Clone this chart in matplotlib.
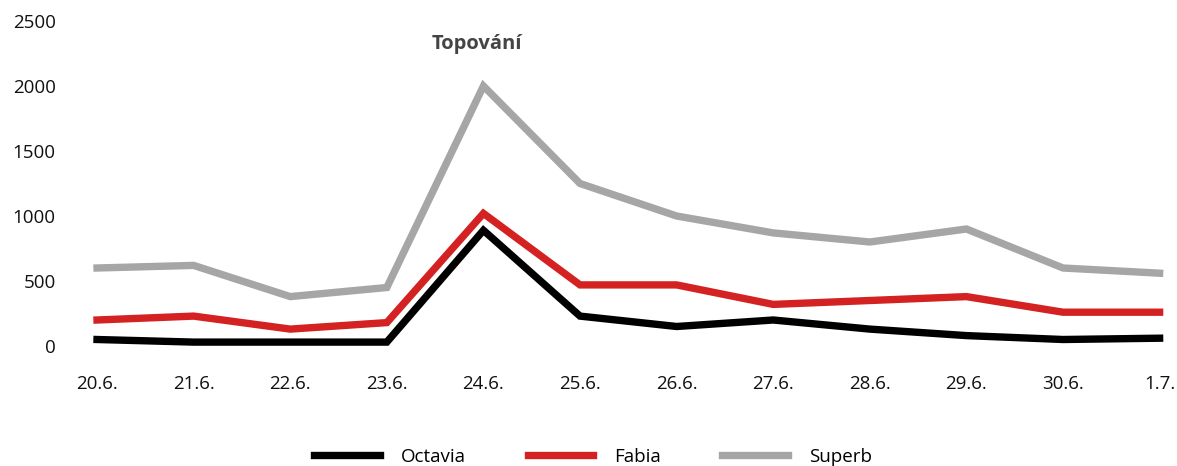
import matplotlib.pyplot as plt

plt.rcParams['font.family'] = ['Open Sans', 'DejaVu Sans']

# data
dates = ['20.6.', '21.6.', '22.6.', '23.6.', '24.6.', '25.6.',
         '26.6.', '27.6.', '28.6.', '29.6.', '30.6.', '1.7.']
octavia = [50, 30, 30, 30, 890, 230, 150, 200, 130, 80, 50, 60]
fabia = [200, 230, 130, 180, 1020, 470, 470, 320, 350, 380, 260, 260]
superb = [600, 620, 380, 450, 2000, 1250, 1000, 870, 800, 900, 600, 560]

W, H = 1177, 466
fig = plt.figure(figsize=(W / 100, H / 100), dpi=100)
# axes placed so that 0 -> y=346px, 2500 -> y=21px
ax = fig.add_axes([75 / W, (H - 346) / H, (W - 75) / W, 325 / H])

x = list(range(len(dates)))
ax.plot(x, superb, color='#a6a6a6', lw=5.3, label='Superb', clip_on=False, solid_joinstyle='miter')
ax.plot(x, fabia, color='#d42121', lw=5.3, label='Fabia', clip_on=False, solid_joinstyle='miter')
ax.plot(x, octavia, color='#000000', lw=5.3, label='Octavia', clip_on=False, solid_joinstyle='miter')

ax.set_xlim(-0.228, 11.18)
ax.set_ylim(0, 2500)
ax.set_yticks([0, 500, 1000, 1500, 2000, 2500])
ax.set_xticks(x)
ax.set_xticklabels(dates)
ax.tick_params(axis='both', length=0, labelsize=13.5, labelcolor='#111111')
ax.tick_params(axis='y', pad=14)
ax.tick_params(axis='x', pad=21)
for s in ax.spines.values():
    s.set_visible(False)

fig.text(477 / W, 1 - 44 / H, 'Topování', ha='center', va='center',
         fontsize=14.5, fontweight='bold', color='#444444')

handles, labels = ax.get_legend_handles_labels()
order = [2, 1, 0]
fig.legend([handles[i] for i in order], [labels[i] for i in order],
           loc='center', bbox_to_anchor=(593 / W, 1 - 457 / H), ncol=3,
           frameon=False, fontsize=13.5, handlelength=3.5, handletextpad=1.1,
           columnspacing=3.3, borderaxespad=0)

fig.savefig('out.png', dpi=100)
